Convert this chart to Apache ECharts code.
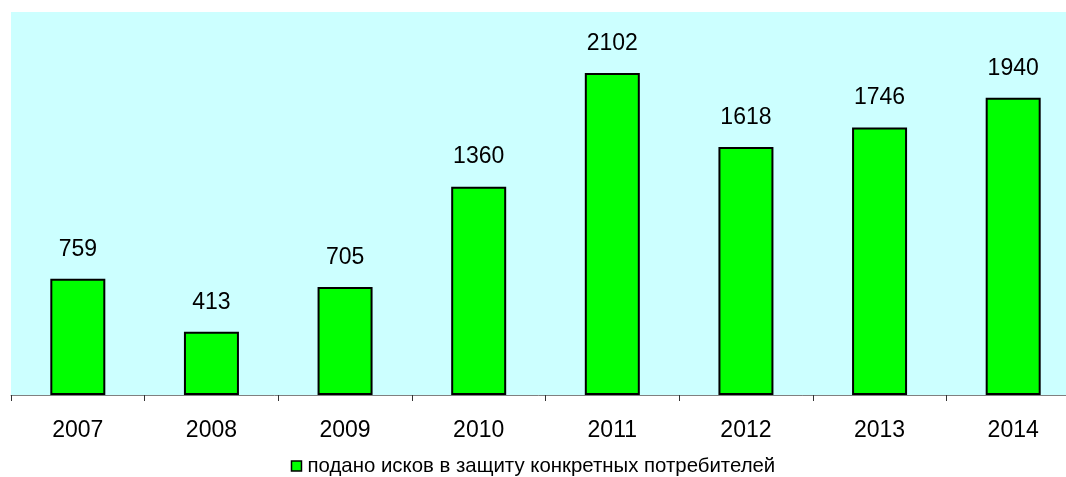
<!DOCTYPE html>
<html>
<head>
<meta charset="utf-8">
<title>Иски в защиту потребителей</title>
<script src="https://cdn.jsdelivr.net/npm/echarts@6/dist/echarts.min.js"></script>
<style>
  html, body { margin: 0; padding: 0; background: #ffffff; }
  #chart { width: 1066px; height: 477px; }
</style>
</head>
<body>
<div id="chart"></div>
<script>
// Годы и число поданных исков
const years = ['2007', '2008', '2009', '2010', '2011', '2012', '2013', '2014'];
const claims = [759, 413, 705, 1360, 2102, 1618, 1746, 1940];
const seriesName = 'подано исков в защиту конкретных потребителей';

const FONT = '"Liberation Sans Narrow", "Liberation Sans", Arial, sans-serif';

const chart = echarts.init(document.getElementById('chart'), null, { renderer: 'canvas' });

chart.setOption({
  animation: false,
  backgroundColor: '#ffffff',
  grid: {
    left: 11,
    top: 12,
    width: 1069,
    height: 383,
    outerBoundsMode: 'none',
    containLabel: false,
    show: true,
    backgroundColor: '#ccffff',
    borderWidth: 0
  },
  legend: {
    top: 451,
    left: 'center',
    itemWidth: 10,
    itemHeight: 10,
    itemGap: 6,
    icon: 'rect',
    textStyle: { fontFamily: FONT, fontSize: 20.4, color: '#000000', padding: [0, 0, 0, 1] },
    data: [{ name: seriesName, itemStyle: { color: '#00ff00', borderColor: '#000000', borderWidth: 1.5 } }]
  },
  xAxis: {
    type: 'category',
    data: years,
    boundaryGap: true,
    axisLine: { show: true, lineStyle: { color: '#808080', width: 1 } },
    axisTick: { show: true, length: 6, alignWithLabel: false, lineStyle: { color: '#333333', width: 1 } },
    axisLabel: { margin: 24, fontFamily: FONT, fontSize: 23, color: '#000000' },
    splitLine: { show: false }
  },
  yAxis: {
    type: 'value',
    min: 0,
    max: 2500,
    show: false,
    splitLine: { show: false }
  },
  series: [{
    name: seriesName,
    type: 'bar',
    data: claims,
    barWidth: 55,
    itemStyle: { color: '#00ff00', borderColor: '#000000', borderWidth: 2 },
    label: {
      show: true,
      position: 'top',
      distance: 18,
      fontFamily: FONT,
      fontSize: 23,
      color: '#000000'
    }
  }]
});
</script>
</body>
</html>
